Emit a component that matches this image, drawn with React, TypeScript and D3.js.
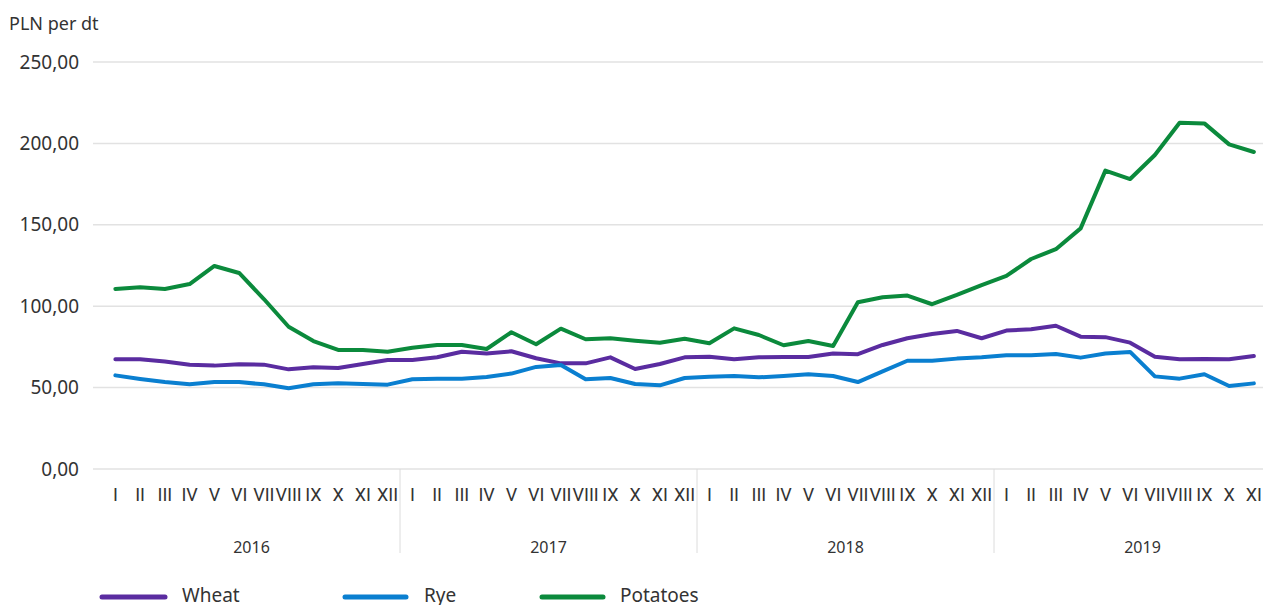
import React from "react";
import * as d3 from "d3";

const years = ["2016", "2017", "2018", "2019"];
const monthNames = ["I", "II", "III", "IV", "V", "VI", "VII", "VIII", "IX", "X", "XI", "XII"];
const monthsInYear = [12, 12, 12, 11];
const yTicks = [0, 50, 100, 150, 200, 250];

const wheat = [
  67.4, 67.4, 66, 64, 63.5, 64.4, 64.1, 61.2, 62.5, 62, 64.5, 67,
  67, 68.6, 72, 71, 72.3, 68, 64.9, 64.9, 68.6, 61.4, 64.5, 68.6,
  69, 67.4, 68.6, 68.8, 68.8, 71, 70.5, 76.2, 80.3, 82.9, 84.8, 80.3,
  85, 85.8, 88, 81.3, 81, 77.6, 69, 67.4, 67.6, 67.4, 69.4,
];
const rye = [
  57.5, 55.3, 53.4, 52, 53.4, 53.4, 52, 49.6, 52, 52.6, 52.2, 51.8,
  55.1, 55.5, 55.5, 56.5, 58.6, 62.7, 63.9, 55.1, 55.9, 52.2, 51.4, 55.9,
  56.7, 57.1, 56.3, 57.1, 58.2, 57.1, 53.4, 60, 66.5, 66.5, 67.8, 68.6,
  69.8, 69.8, 70.6, 68.4, 71, 71.9, 56.9, 55.5, 58.2, 51, 52.6,
];
const potatoes = [
  110.6, 111.6, 110.6, 113.6, 124.7, 120.4, 104.4, 87.4, 78.6, 73.1, 73.1, 72,
  74.5, 76.2, 76.2, 73.7, 84, 76.6, 86.2, 79.7, 80.3, 78.8, 77.6, 80,
  77.2, 86.4, 82.3, 76, 78.6, 75.6, 102.4, 105.5, 106.5, 101.2, 106.9, 113,
  118.6, 129, 135, 147.8, 183.3, 178.1, 192.9, 212.7, 212.3, 199.4, 194.7,
];

const seriesNames = ["Wheat", "Rye", "Potatoes"];
const seriesColors = ["#5a2ca0", "#0a7fd0", "#0b8a3c"];

export default function App() {
  const W = 1263;
  const H = 605;
  const periods: { year: string; month: string; idx: number }[] = [];
  years.forEach((yr, yi) => {
    for (let m = 0; m < monthsInYear[yi]; m++) {
      periods.push({ year: yr, month: monthNames[m], idx: periods.length });
    }
  });
  const step = 24.75;
  const x0 = 103;
  const x = d3
    .scaleBand<number>()
    .domain(periods.map((p) => p.idx))
    .range([x0, x0 + step * periods.length])
    .padding(0);
  const y = d3.scaleLinear().domain([0, 250]).range([469, 62]);
  const cx = (i: number) => (x(i) as number) + x.bandwidth() / 2;
  const line = d3
    .line<number>()
    .x((_, i) => cx(i))
    .y((v) => y(v));
  const allSeries = [wheat, rye, potatoes];
  const fmt = (v: number) => v.toFixed(2).replace(".", ",");
  const font = "'Noto Sans', 'Open Sans', sans-serif";
  const narrow = "'Liberation Sans Narrow', 'Roboto', sans-serif";

  let acc = 0;
  const yearSpans = years.map((yr, yi) => {
    const start = acc;
    acc += monthsInYear[yi];
    return { yr, start, end: acc };
  });
  const yearStartX = (i: number) => x0 + step * i;
  const yearFullEnd = (s: { start: number }) => x0 + step * (s.start + 12);

  const legendItems = [
    { x1: 102, x2: 165, tx: 182 },
    { x1: 345, x2: 406, tx: 424 },
    { x1: 542, x2: 603, tx: 620 },
  ];

  return (
    <div style={{ position: "absolute", left: 0, top: 0 }}>
      <svg width={W} height={H} style={{ display: "block", background: "#fff" }}>
        <text x={9} y={30} fontFamily={font} fontSize={18} fill="#333">
          PLN per dt
        </text>
        {yTicks.map((t) => (
          <g key={t}>
            <line x1={93} x2={W} y1={y(t)} y2={y(t)} stroke="#e2e2e2" strokeWidth={1.5} />
            <text
              x={79}
              y={y(t)}
              dy="0.35em"
              textAnchor="end"
              fontFamily={font}
              fontSize={19}
              fill="#333"
            >
              {fmt(t)}
            </text>
          </g>
        ))}
        {yearSpans.slice(1).map((s) => (
          <line
            key={s.yr}
            x1={yearStartX(s.start)}
            x2={yearStartX(s.start)}
            y1={469}
            y2={553}
            stroke="#dcdcdc"
            strokeWidth={1}
          />
        ))}
        {periods.map((p) => (
          <text
            key={p.idx}
            x={cx(p.idx)}
            y={495}
            dy="0.35em"
            textAnchor="middle"
            fontFamily={narrow}
            fontSize={18}
            fill="#333"
          >
            {p.month}
          </text>
        ))}
        {yearSpans.map((s) => (
          <text
            key={s.yr}
            x={(yearStartX(s.start) + yearFullEnd(s)) / 2}
            y={547}
            dy="0.35em"
            textAnchor="middle"
            fontFamily={font}
            fontSize={16}
            fill="#333"
          >
            {s.yr}
          </text>
        ))}
        {allSeries.map((vals, si) => (
          <path
            key={si}
            d={line(vals) || ""}
            fill="none"
            stroke={seriesColors[si]}
            strokeWidth={4}
            strokeLinejoin="round"
            strokeLinecap="round"
          />
        ))}
        {legendItems.map((l, i) => (
          <g key={i}>
            <line
              x1={l.x1}
              x2={l.x2}
              y1={597}
              y2={597}
              stroke={seriesColors[i]}
              strokeWidth={5}
              strokeLinecap="round"
            />
            <text x={l.tx} y={602} fontFamily={font} fontSize={19} fill="#333">
              {seriesNames[i]}
            </text>
          </g>
        ))}
      </svg>
    </div>
  );
}
